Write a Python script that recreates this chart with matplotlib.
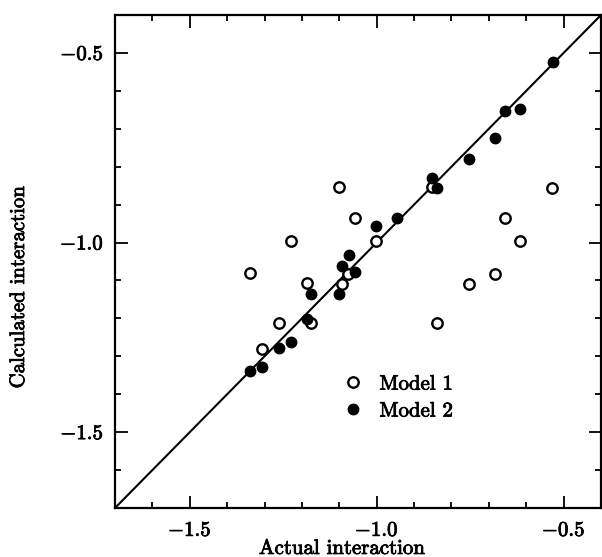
import matplotlib
matplotlib.use("Agg")
import matplotlib.pyplot as plt
import matplotlib.patheffects as pe
from matplotlib.ticker import MultipleLocator, FuncFormatter

plt.rcParams['font.family'] = 'serif'
plt.rcParams['font.serif'] = ['cmr10']
plt.rcParams['mathtext.fontset'] = 'cm'
plt.rcParams['axes.unicode_minus'] = False

# Model 1 (open circles)
m1_actual = [-1.338, -1.308, -1.260, -1.228, -1.187, -1.175, -1.100, -1.093, -1.076,
             -1.057, -1.002, -0.852, -0.840, -0.754, -0.683, -0.658, -0.618, -0.531]
m1_calc = [-1.081, -1.280, -1.211, -0.995, -1.107, -1.213, -0.854, -1.109, -1.083,
           -0.935, -0.995, -0.854, -1.213, -1.109, -1.083, -0.935, -0.997, -0.856]

# Model 2 (filled circles)
m2_actual = [-1.340, -1.307, -1.260, -1.228, -1.187, -1.175, -1.102, -1.093, -1.075, -1.057,
             -1.002, -0.945, -0.852, -0.840, -0.754, -0.683, -0.658, -0.618, -0.529]
m2_calc = [-1.338, -1.327, -1.277, -1.262, -1.201, -1.135, -1.135, -1.063, -1.034, -1.077,
           -0.956, -0.935, -0.829, -0.855, -0.779, -0.725, -0.653, -0.649, -0.524]

lims = [-1.7, -0.4]
major_ticks = [-1.5, -1.0, -0.5]

fig = plt.figure(figsize=(6.02, 5.57), dpi=100)
ax = fig.add_axes([115/602, 1-508/557, 486/602, 493/557])

ax.plot(lims, lims, color='black', lw=1.5, zorder=1)
ax.plot(m1_actual, m1_calc, 'o', mfc='white', mec='black', mew=1.7, ms=7.5,
        ls='none', label='Model 1', zorder=3)
ax.plot(m2_actual, m2_calc, 'o', mfc='black', mec='black', mew=1.0, ms=7.5,
        ls='none', label='Model 2', zorder=3)

ax.set_xlim(lims)
ax.set_ylim(lims)
ax.set_xticks(major_ticks)
ax.set_yticks(major_ticks)
ax.xaxis.set_minor_locator(MultipleLocator(0.1))
ax.yaxis.set_minor_locator(MultipleLocator(0.1))
fmt = FuncFormatter(lambda v, p: r'$%.1f$' % v)
ax.xaxis.set_major_formatter(fmt)
ax.yaxis.set_major_formatter(fmt)
ax.tick_params(which='both', direction='in', top=True, right=True, labelsize=15, width=1.3)
ax.tick_params(which='major', length=9, pad=8)
ax.tick_params(axis='x', which='major', pad=10)
ax.tick_params(which='minor', length=4.5)
for s in ax.spines.values():
    s.set_linewidth(1.6)

bold = [pe.withStroke(linewidth=0.6, foreground='black')]

ax.set_xlabel('Actual interaction', fontsize=15)
ax.xaxis.set_label_coords((342-115)/486, (508-540)/493)
ax.set_ylabel('Calculated interaction', fontsize=15)
ax.yaxis.set_label_coords((28-115)/486, 1-(287-15)/493)

leg = ax.legend(loc='upper left', bbox_to_anchor=((343-115)/486, (508-375)/493), frameon=False,
                fontsize=15, handlelength=1.0, handletextpad=0.75, labelspacing=0.4,
                borderpad=0, borderaxespad=0)

for t in (ax.get_xticklabels() + ax.get_yticklabels() + leg.get_texts()
          + [ax.xaxis.label, ax.yaxis.label]):
    t.set_path_effects(bold)

fig.savefig('out.png', dpi=100)
